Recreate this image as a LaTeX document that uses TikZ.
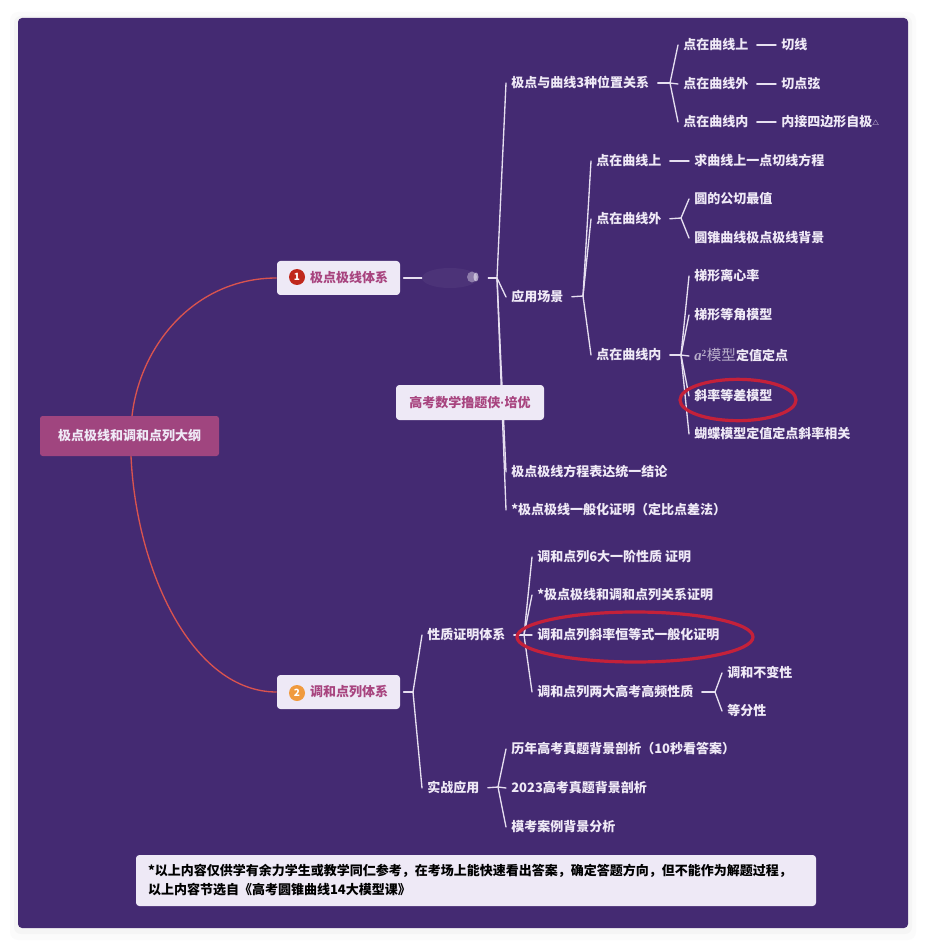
\documentclass[tikz,border=0pt]{standalone}
\usepackage{fontspec}
\setmainfont{Noto Sans CJK SC}
\newfontfamily\latinserif{Liberation Serif}
\newfontfamily\latinsans{Liberation Sans}
\usetikzlibrary{shapes.geometric}
\definecolor{panelc}{HTML}{442A72}
\definecolor{lblc}{HTML}{EFE9F6}
\definecolor{linec}{HTML}{E6DFF0}
\definecolor{rootc}{HTML}{A0457F}
\definecolor{magc}{HTML}{A8447F}
\definecolor{boxc}{HTML}{EEE9F6}
\definecolor{curvec}{HTML}{D9534F}
\definecolor{ringc}{HTML}{C4213A}
\definecolor{greyc}{HTML}{B9AFCB}
\definecolor{badgea}{HTML}{C0281C}
\definecolor{badgeb}{HTML}{F09A3E}
\pgfdeclarelayer{bg}
\pgfsetlayers{bg,main}
\tikzset{
  lab/.style={anchor=west,xshift=-3.75pt,yshift=-0.75pt,inner xsep=3.75pt,inner ysep=1pt,text=lblc,
    font=\fontsize{9.75}{12}\selectfont\bfseries,text height=8.6pt,text depth=1.2pt},
  branch/.style={draw=linec,line width=1pt,line cap=round},
  dashl/.style={branch,shorten <=2.5pt},
  card/.style={fill=boxc,rounded corners=2.5pt,text=magc,inner sep=0pt,text height=8.6pt,text depth=1.2pt,
    font=\fontsize{9.75}{12}\selectfont\bfseries},
  curvel/.style={draw=curvec,line width=1pt},
  ring/.style={draw=ringc,line width=2.4pt,ellipse,inner sep=0pt,fill=none},
  badge/.style={circle,inner sep=0pt,minimum size=12pt,text=white,font=\fontsize{7.5}{8}\selectfont\bfseries}
}
\begin{document}
\begin{tikzpicture}[x=0.75pt,y=-0.75pt]
\useasboundingbox (0,0) rectangle (930,948);
% ---- nodes
\node[fill=rootc,rounded corners=2pt,text=lblc,minimum width=134.25pt,minimum height=30pt,inner sep=0pt,text height=8.6pt,text depth=1.2pt,font=\fontsize{9.75}{12}\selectfont\bfseries] (root) at (129.5,436) {极点极线和调和点列大纲};
\node[card,minimum width=92.25pt,minimum height=25.5pt] (n1) at (338.5,278) {\hspace{16pt}极点极线体系};
\node[badge,fill=badgea] (b1) at (297,277) {1};
\node[card,minimum width=92.25pt,minimum height=25.5pt] (n2) at (338.5,692) {\hspace{16pt}调和点列体系};
\node[badge,fill=badgeb] (b2) at (297,693) {2};
\node[card,minimum width=111pt,minimum height=26.25pt] (wm) at (470,402.5) {高考数学撸题侠{\latinsans ·}培优};
\node[minimum width=49.5pt,minimum height=18pt,inner sep=0pt] (sm) at (455,278) {};

\node[lab] (a1) at (511,82) {极点与曲线3种位置关系};
\node[lab] (a11) at (683,44) {点在曲线上};
\node[lab] (a12) at (683,83) {点在曲线外};
\node[lab] (a13) at (683,121) {点在曲线内};
\node[lab] (a111) at (781,44) {切线};
\node[lab] (a121) at (781,83) {切点弦};
\node[lab] (a131) at (781,121) {内接四边形自极\raisebox{1pt}{\fontsize{5}{6}\selectfont △}};

\node[lab] (a2) at (511,296) {应用场景};
\node[lab] (a21) at (596,160) {点在曲线上};
\node[lab] (a22) at (596,218) {点在曲线外};
\node[lab] (a23) at (596,354) {点在曲线内};
\node[lab] (a211) at (694,160) {求曲线上一点切线方程};
\node[lab] (a221) at (694,198) {圆的公切最值};
\node[lab] (a222) at (694,237) {圆锥曲线极点极线背景};
\node[lab] (a231) at (694,275) {梯形离心率};
\node[lab] (a232) at (694,314) {梯形等角模型};
\node[lab] (a233) at (694,355) {{\color{greyc}{\latinserif\bfseries\itshape\fontsize{11}{12}\selectfont a}\raisebox{3.5pt}{\latinserif\bfseries\fontsize{7}{8}\selectfont 2}\hspace{0.5pt}\fontsize{10.9}{12}\selectfont\mdseries 模型}定值定点};
\node[lab] (a234) at (694,395) {斜率等差模型};
\node[lab] (a235) at (694,433) {蝴蝶模型定值定点斜率相关};

\node[lab] (a3) at (511,471) {极点极线方程表达统一结论};
\node[lab] (a4) at (511,509) {*极点极线一般化证明（定比点差法）};

\node[lab] (c1) at (427,634) {性质证明体系};
\node[lab] (c11) at (537,556) {调和点列6大一阶性质 证明};
\node[lab] (c12) at (537,594) {*极点极线和调和点列关系证明};
\node[lab] (c13) at (537,634) {调和点列斜率恒等式一般化证明};
\node[lab] (c14) at (537,691) {调和点列两大高考高频性质};
\node[lab] (c141) at (727,672) {调和不变性};
\node[lab] (c142) at (727,710) {等分性};
\node[lab] (c2) at (427,787) {实战应用};
\node[lab] (c21) at (511,748) {历年高考真题背景剖析（10秒看答案）};
\node[lab] (c22) at (511,787) {2023高考真题背景剖析};
\node[lab] (c23) at (511,826) {模考案例背景分析};

\node[fill=boxc,rounded corners=2.5pt,minimum width=510pt,minimum height=38.25pt,inner sep=0pt,text=black,font=\fontsize{9.75}{14.25}\selectfont\bfseries] (foot) at (476,880.5) {\raisebox{-0.75pt}{\parbox{492pt}{\raggedright *以上内容仅供学有余力学生或教学同仁参考，在考场上能快速看出答案，确定答题方向，但不能作为解题过程，\\以上内容节选自《高考圆锥曲线14大模型课》}}};

\node[ring,minimum width=87pt,minimum height=31pt] (r1) at (738,400) {};
\node[ring,minimum width=177pt,minimum height=37.5pt] (r2) at (635,637) {};

% ---- junctions
\coordinate (j0) at (497,278);
\coordinate (j1) at (670,83);
\coordinate (j2) at (583,296);
\coordinate (j22) at (681,218);
\coordinate (j23) at (681,355);
\coordinate (j3) at (413,692);
\coordinate (j4) at (524,635);
\coordinate (j14) at (715,692);
\coordinate (j5) at (498,787);
\coordinate (rt) at (132,416);
\coordinate (rb) at (131,456);

\begin{pgfonlayer}{bg}
\fill[black,opacity=.015,rounded corners=6pt] (10,12) rectangle (916,940);
\fill[black,opacity=.025,rounded corners=5pt] (14,16) rectangle (912,934);
\fill[panelc,rounded corners=3pt] (18,18) rectangle (908,928);
\draw[curvel] (rt) .. controls (140,345) and (195,278) .. (n1.west);
\draw[curvel] (rb) .. controls (136,570) and (192,692) .. (n2.west);
\draw[dashl] (n1.east) -- (sm.west);
\draw[branch] (sm.east) -- (j0);
\foreach \t in {a1,a2,a3,a4} \draw[branch] (j0) -- (\t.west);
\draw[dashl] (a1.east) -- (j1);
\foreach \t in {a11,a12,a13} \draw[branch] (j1) -- (\t.west);
\draw[dashl] (a11.east) -- (a111.west);
\draw[dashl] (a12.east) -- (a121.west);
\draw[dashl] (a13.east) -- (a131.west);
\draw[dashl] (a2.east) -- (j2);
\foreach \t in {a21,a22,a23} \draw[branch] (j2) -- (\t.west);
\draw[dashl] (a21.east) -- (a211.west);
\draw[dashl] (a22.east) -- (j22);
\foreach \t in {a221,a222} \draw[branch] (j22) -- (\t.west);
\draw[dashl] (a23.east) -- (j23);
\foreach \t in {a231,a232,a233,a234,a235} \draw[branch] (j23) -- (\t.west);
\draw[dashl] (n2.east) -- (j3);
\foreach \t in {c1,c2} \draw[branch] (j3) -- (\t.west);
\draw[dashl] (c1.east) -- (j4);
\foreach \t in {c11,c12,c13,c14} \draw[branch] (j4) -- (\t.west);
\draw[dashl] (c14.east) -- (j14);
\foreach \t in {c141,c142} \draw[branch] (j14) -- (\t.west);
\draw[dashl] (c2.east) -- (j5);
\foreach \t in {c21,c22,c23} \draw[branch] (j5) -- (\t.west);
\end{pgfonlayer}
% smudge
\fill[lblc,opacity=.05] (sm.center) ++(-5,0) ellipse (28 and 10);
\fill[lblc,opacity=.4] (472,277) ellipse (5 and 5.5);
\fill[lblc,opacity=.6] (476,277) ellipse (2.5 and 4.5);
\end{tikzpicture}
\end{document}
